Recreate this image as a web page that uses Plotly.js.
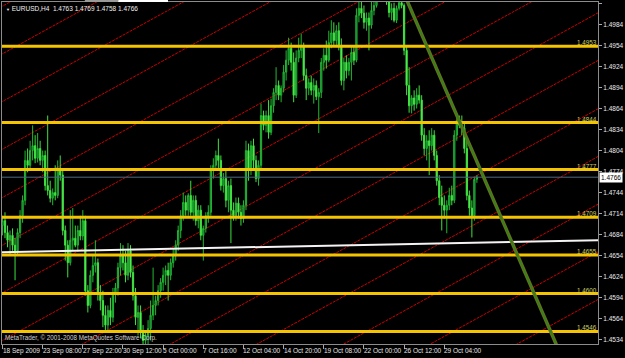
<!DOCTYPE html>
<html><head><meta charset="utf-8">
<script src="https://cdn.plot.ly/plotly-3.0.1.min.js"></script>
<style>html,body{margin:0;padding:0;background:#000;}#chart{width:625px;height:358px;}</style>
</head><body><div id="chart"></div>
<script>
const opens = [1.4697,1.4704,1.4687,1.4676,1.4683,1.4669,1.4661,1.4687,1.4711,1.4733,1.4790,1.4783,1.4804,1.4811,1.4793,1.4807,1.4790,1.4797,1.4754,1.4747,1.4736,1.4744,1.4740,1.4779,1.4769,1.4690,1.4669,1.4644,1.4676,1.4679,1.4669,1.4690,1.4682,1.4704,1.4604,1.4583,1.4626,1.4640,1.4644,1.4601,1.4590,1.4569,1.4555,1.4576,1.4566,1.4601,1.4608,1.4637,1.4654,1.4644,1.4626,1.4661,1.4630,1.4597,1.4566,1.4573,1.4545,1.4533,1.4540,1.4550,1.4569,1.4583,1.4590,1.4604,1.4616,1.4626,1.4633,1.4626,1.4644,1.4654,1.4669,1.4690,1.4711,1.4730,1.4719,1.4740,1.4716,1.4733,1.4704,1.4719,1.4683,1.4693,1.4711,1.4716,1.4776,1.4783,1.4797,1.4790,1.4754,1.4764,1.4733,1.4754,1.4719,1.4711,1.4729,1.4716,1.4707,1.4726,1.4804,1.4776,1.4811,1.4790,1.4764,1.4783,1.4854,1.4840,1.4854,1.4830,1.4868,1.4887,1.4897,1.4883,1.4893,1.4916,1.4933,1.4950,1.4930,1.4883,1.4936,1.4947,1.4954,1.4911,1.4893,1.4901,1.4890,1.4897,1.4881,1.4887,1.4930,1.4940,1.4933,1.4958,1.4972,1.4961,1.4975,1.4954,1.4904,1.4930,1.4918,1.4930,1.4944,1.4933,1.4997,1.5007,1.5000,1.4987,1.4993,1.4983,1.5004,1.5011,1.5022,1.5030,1.5036,1.5026,1.5018,1.5001,1.5007,1.4990,1.5007,1.5015,1.5011,1.4947,1.4897,1.4868,1.4879,1.4870,1.4883,1.4876,1.4826,1.4807,1.4818,1.4811,1.4826,1.4797,1.4761,1.4737,1.4726,1.4719,1.4726,1.4740,1.4733,1.4826,1.4847,1.4840,1.4836,1.4807,1.4740,1.4722,1.4711,1.4763];
const highs = [1.4711,1.4716,1.4697,1.4690,1.4693,1.4679,1.4693,1.4719,1.4740,1.4804,1.4807,1.4818,1.4840,1.4826,1.4829,1.4818,1.4804,1.4804,1.4854,1.4761,1.4750,1.4783,1.4790,1.4797,1.4779,1.4697,1.4676,1.4719,1.4722,1.4697,1.4697,1.4711,1.4719,1.4711,1.4612,1.4633,1.4654,1.4676,1.4650,1.4612,1.4604,1.4583,1.4583,1.4594,1.4608,1.4615,1.4644,1.4672,1.4669,1.4661,1.4672,1.4669,1.4640,1.4608,1.4583,1.4583,1.4555,1.4547,1.4562,1.4590,1.4637,1.4597,1.4612,1.4622,1.4637,1.4640,1.4644,1.4650,1.4665,1.4676,1.4697,1.4719,1.4744,1.4740,1.4743,1.4761,1.4740,1.4740,1.4726,1.4726,1.4697,1.4716,1.4726,1.4783,1.4793,1.4804,1.4821,1.4797,1.4772,1.4776,1.4761,1.4764,1.4730,1.4737,1.4737,1.4726,1.4733,1.4818,1.4814,1.4818,1.4821,1.4797,1.4790,1.4871,1.4861,1.4861,1.4876,1.4878,1.4893,1.4923,1.4904,1.4897,1.4926,1.4947,1.4965,1.4958,1.4944,1.4947,1.4965,1.4971,1.4958,1.4921,1.4907,1.4911,1.4907,1.4904,1.4893,1.4936,1.4950,1.4961,1.4975,1.4990,1.4987,1.4983,1.4987,1.4964,1.4936,1.4940,1.4936,1.4954,1.4954,1.5007,1.5018,1.5025,1.5011,1.5001,1.5001,1.5021,1.5025,1.5032,1.5040,1.5048,1.5045,1.5034,1.5024,1.5014,1.5015,1.5011,1.5025,1.5029,1.5014,1.4954,1.4923,1.4883,1.4890,1.4893,1.4897,1.4883,1.4836,1.4826,1.4833,1.4836,1.4833,1.4804,1.4769,1.4754,1.4740,1.4733,1.4751,1.4754,1.4833,1.4857,1.4854,1.4854,1.4844,1.4818,1.4747,1.4733,1.4766,1.4769];
const lows = [1.4683,1.4679,1.4666,1.4654,1.4661,1.4619,1.4654,1.4679,1.4701,1.4726,1.4773,1.4776,1.4790,1.4786,1.4787,1.4783,1.4773,1.4747,1.4740,1.4730,1.4726,1.4733,1.4736,1.4761,1.4683,1.4647,1.4623,1.4640,1.4661,1.4666,1.4661,1.4676,1.4676,1.4597,1.4573,1.4579,1.4616,1.4630,1.4590,1.4576,1.4552,1.4545,1.4547,1.4555,1.4559,1.4587,1.4597,1.4626,1.4633,1.4616,1.4619,1.4623,1.4590,1.4555,1.4540,1.4536,1.4526,1.4525,1.4526,1.4533,1.4562,1.4569,1.4583,1.4594,1.4604,1.4612,1.4590,1.4619,1.4637,1.4647,1.4661,1.4679,1.4704,1.4711,1.4711,1.4711,1.4704,1.4697,1.4693,1.4676,1.4647,1.4687,1.4701,1.4711,1.4764,1.4776,1.4779,1.4747,1.4744,1.4723,1.4716,1.4672,1.4704,1.4704,1.4707,1.4697,1.4701,1.4719,1.4761,1.4769,1.4779,1.4759,1.4754,1.4776,1.4833,1.4830,1.4821,1.4826,1.4858,1.4876,1.4876,1.4873,1.4887,1.4904,1.4926,1.4918,1.4873,1.4879,1.4930,1.4936,1.4904,1.4876,1.4883,1.4883,1.4871,1.4876,1.4829,1.4879,1.4918,1.4921,1.4930,1.4950,1.4954,1.4954,1.4947,1.4897,1.4890,1.4907,1.4911,1.4904,1.4926,1.4930,1.4987,1.4993,1.4978,1.4975,1.4947,1.4978,1.4997,1.5008,1.5018,1.5022,1.5020,1.5012,1.4994,1.4990,1.4987,1.4986,1.5004,1.5007,1.4940,1.4883,1.4858,1.4857,1.4861,1.4864,1.4871,1.4818,1.4797,1.4790,1.4769,1.4804,1.4790,1.4754,1.4726,1.4690,1.4707,1.4686,1.4719,1.4726,1.4729,1.4818,1.4836,1.4826,1.4800,1.4733,1.4711,1.4680,1.4704,1.4758];
const closes = [1.4704,1.4687,1.4676,1.4683,1.4669,1.4661,1.4687,1.4711,1.4733,1.4790,1.4783,1.4804,1.4811,1.4793,1.4807,1.4790,1.4797,1.4754,1.4747,1.4736,1.4744,1.4740,1.4779,1.4769,1.4690,1.4669,1.4644,1.4676,1.4679,1.4669,1.4690,1.4682,1.4704,1.4604,1.4583,1.4626,1.4640,1.4644,1.4601,1.4590,1.4569,1.4555,1.4576,1.4566,1.4601,1.4608,1.4637,1.4654,1.4644,1.4626,1.4661,1.4630,1.4597,1.4566,1.4573,1.4545,1.4533,1.4540,1.4550,1.4569,1.4583,1.4590,1.4604,1.4616,1.4626,1.4633,1.4626,1.4644,1.4654,1.4669,1.4690,1.4711,1.4730,1.4719,1.4740,1.4716,1.4733,1.4704,1.4719,1.4683,1.4693,1.4711,1.4716,1.4776,1.4783,1.4797,1.4790,1.4754,1.4764,1.4733,1.4754,1.4719,1.4711,1.4729,1.4716,1.4707,1.4726,1.4804,1.4776,1.4811,1.4790,1.4764,1.4783,1.4854,1.4840,1.4854,1.4830,1.4868,1.4887,1.4897,1.4883,1.4893,1.4916,1.4933,1.4950,1.4930,1.4883,1.4936,1.4947,1.4954,1.4911,1.4893,1.4901,1.4890,1.4897,1.4881,1.4887,1.4930,1.4940,1.4933,1.4958,1.4972,1.4961,1.4975,1.4954,1.4904,1.4930,1.4918,1.4930,1.4944,1.4933,1.4997,1.5007,1.5000,1.4987,1.4993,1.4983,1.5004,1.5011,1.5022,1.5030,1.5036,1.5026,1.5018,1.5001,1.5007,1.4990,1.5007,1.5015,1.5011,1.4947,1.4897,1.4868,1.4879,1.4870,1.4883,1.4876,1.4826,1.4807,1.4818,1.4811,1.4826,1.4797,1.4761,1.4737,1.4726,1.4719,1.4726,1.4740,1.4733,1.4826,1.4847,1.4840,1.4836,1.4807,1.4740,1.4722,1.4711,1.4763,1.4766];

const timeLabels = ["18 Sep 2009","23 Sep 08:00","27 Sep 22:00","30 Sep 12:00","5 Oct 00:00","7 Oct 16:00","12 Oct 04:00","14 Oct 20:00","19 Oct 08:00","22 Oct 00:00","26 Oct 12:00","29 Oct 04:00"];
const timeLabelBars = [0,16,32,48,64,80,96,112,128,144,160,176];
const priceTicks = [1.4534,1.4564,1.4594,1.4624,1.4654,1.4684,1.4714,1.4744,1.4774,1.4804,1.4834,1.4864,1.4894,1.4924,1.4954,1.4984,1.5014];
const levelPrices = [1.4953,1.4844,1.4777,1.4709,1.4655,1.4600,1.4546];
const levelLabels = ["1.4953","1.4844","1.4777","1.4709","1.4655","1.4600","1.4546"];
const channelAnchorBar = 237;
const channelAnchorPrices = [1.5477,1.5409,1.5341,1.5273,1.5204,1.5136,1.5068,1.5000,1.4932,1.4863,1.4795,1.4727,1.4659,1.4591];
const channelSlope = 0.000197;
const trendLineBars = [158,238];
const trendLinePrices = [1.5044,1.4384];
const baseLineBars = [-1,238];
const baseLinePrices = [1.4659,1.4676];
const symbolText = "EURUSD,H4  1.4763 1.4769 1.4758 1.4766";
const lastPrice = 1.4766;

const bars = closes.map((_, i) => i);
const X0 = -0.2, X1 = 237.25;
const FONT = "Liberation Sans, Arial, sans-serif";

const shapes = [];
channelAnchorPrices.forEach(p => {
  shapes.push({type:'line', layer:'below', xref:'x', yref:'y',
    x0:-1, y0:p + channelSlope*(-1 - channelAnchorBar),
    x1:239, y1:p + channelSlope*(239 - channelAnchorBar),
    line:{color:'#cc0000', width:1, dash:'3px,1px'}});
});
levelPrices.forEach(p => {
  shapes.push({type:'line', layer:'above', xref:'paper', yref:'y', x0:0, x1:1, y0:p, y1:p,
    line:{color:'#f5c400', width:3}});
});
shapes.push({type:'line', layer:'above', xref:'paper', yref:'y', x0:0, x1:1, y0:lastPrice, y1:lastPrice,
  line:{color:'#4d6780', width:1}});
shapes.push({type:'line', layer:'above', xref:'x', yref:'y', x0:baseLineBars[0], x1:baseLineBars[1],
  y0:baseLinePrices[0], y1:baseLinePrices[1], line:{color:'#f4f4f4', width:2}});
shapes.push({type:'line', layer:'above', xref:'x', yref:'y', x0:trendLineBars[0], x1:trendLineBars[1],
  y0:trendLinePrices[0], y1:trendLinePrices[1], line:{color:'#6f6f12', width:3.5}});
shapes.push({type:'line', layer:'above', xref:'x', yref:'y', x0:trendLineBars[0], x1:trendLineBars[1],
  y0:trendLinePrices[0], y1:trendLinePrices[1], line:{color:'#23862a', width:1.3}});
shapes.push({type:'line', xref:'paper', yref:'paper', x0:0.139, x1:0.195, y0:1.003, y1:1.003, line:{color:'#9a9a9a', width:2}});
shapes.push({type:'line', xref:'paper', yref:'paper', x0:0.195, x1:0.2785, y0:1.003, y1:1.003, line:{color:'#ffffff', width:2}});

const annotations = [];
timeLabels.forEach((t, k) => {
  annotations.push({xref:'x', yref:'paper', x:timeLabelBars[k], y:0, xanchor:'left', yanchor:'top',
    xshift:-1, yshift:-2, text:t, showarrow:false, borderpad:0, font:{family:FONT, size:6.5, color:'#e6e6e6'}});
});
levelPrices.forEach((p, k) => {
  annotations.push({xref:'paper', yref:'y', x:1, y:p, xanchor:'right', yanchor:'bottom', yshift:-1, borderpad:0,
    text:levelLabels[k], showarrow:false, font:{family:FONT, size:6.3, color:'#cfcf6a'}});
});
annotations.push({xref:'paper', yref:'paper', x:0, y:1, xanchor:'left', yanchor:'top', xshift:2, yshift:-1,
  text:'<span style="font-size:4px">▼</span> ' + symbolText, showarrow:false, font:{family:FONT, size:6.5, color:'#f0f0f0'}});
annotations.push({xref:'paper', yref:'paper', x:0, y:0, xanchor:'left', yanchor:'bottom', xshift:1, yshift:0,
  text:'MetaTrader, © 2001-2008 MetaQuotes Software Corp.', showarrow:false, font:{family:FONT, size:6.3, color:'#d0d0d0'}});
annotations.push({xref:'paper', yref:'y', x:1, y:lastPrice, xanchor:'left', yanchor:'middle', xshift:1,
  text:lastPrice.toFixed(4), showarrow:false, bgcolor:'#ffffff', borderpad:1,
  font:{family:FONT, size:6.5, color:'#000000'}});

const data = [{
  type:'candlestick', x:bars, open:opens, high:highs, low:lows, close:closes,
  increasing:{line:{color:'#22b832', width:1}, fillcolor:'#0f5a3c'},
  decreasing:{line:{color:'#3fe03f', width:1}, fillcolor:'#66ff66'},
  whiskerwidth:0, hoverinfo:'skip', showlegend:false
}];

const layout = {
  width:625, height:358,
  margin:{l:2, r:27, t:2, b:14},
  paper_bgcolor:'#000000', plot_bgcolor:'#000000',
  showlegend:false,
  xaxis:{range:[X0, X1], showgrid:false, zeroline:false, tickvals:timeLabelBars, ticks:'outside', ticklen:4,
    tickcolor:'#a8a8a8', showticklabels:false, showline:true, linecolor:'#8c8c8c', linewidth:1, mirror:true,
    rangeslider:{visible:false}, fixedrange:true},
  yaxis:{side:'right', range:[1.4528, 1.5016], tickvals:priceTicks, ticktext:priceTicks.map(v => v.toFixed(4)),
    ticks:'outside', ticklen:3, tickcolor:'#a8a8a8', tickfont:{family:FONT, size:6.5, color:'#ececec'},
    showline:true, linecolor:'#8c8c8c', linewidth:1, mirror:true, showgrid:false, zeroline:false, fixedrange:true},
  shapes:shapes, annotations:annotations
};
Plotly.newPlot('chart', data, layout, {staticPlot:true, displayModeBar:false});
</script></body></html>
